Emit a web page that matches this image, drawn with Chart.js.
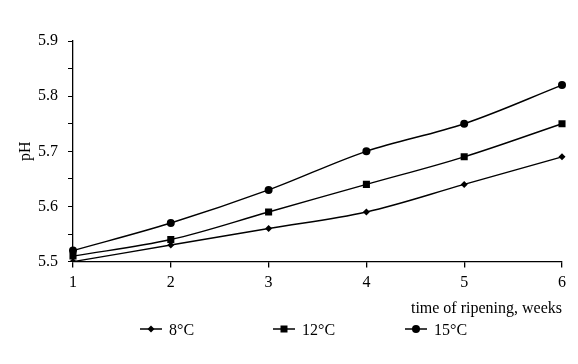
<!DOCTYPE html>
<html>
<head>
<meta charset="utf-8">
<script src="https://cdn.jsdelivr.net/npm/chart.js@4/dist/chart.umd.min.js"></script>
<style>
    html, body { margin: 0; padding: 0; background: #fff; }
    #wrap { position: relative; width: 578px; height: 364px; }
    #legend {
        position: absolute; left: 0; top: 320px; width: 578px;
        font-family: "Liberation Serif", "Times New Roman", serif; font-size: 16px; color: #000;
    }
    #legend .item { position: absolute; top: 0; white-space: nowrap; line-height: 20px; }
    #legend canvas { vertical-align: middle; margin-right: 7px; position: relative; top: -2px; }
</style>
</head>
<body>
<div id="wrap">
    <canvas id="chart-ph"></canvas>
    <div id="legend"></div>
</div>
<script>
// data
const weeks = ['1', '2', '3', '4', '5', '6'];
const seriesNames = ['8°C', '12°C', '15°C'];
const ph8 = [5.50, 5.53, 5.56, 5.59, 5.64, 5.69];
const ph12 = [5.51, 5.54, 5.59, 5.64, 5.69, 5.75];
const ph15 = [5.52, 5.57, 5.63, 5.70, 5.75, 5.82];

const serif = '"Liberation Serif", "Times New Roman", serif';

const markers = ['rectRot', 'rect', 'circle'];
const radii = [3.5, 5, 4];
const values = [ph8, ph12, ph15];
const legendLeft = [140, 273, 405];

// small legend icon: line with the marker in the middle
function legendIcon(style) {
    const c = document.createElement('canvas');
    c.width = 22;
    c.height = 12;
    const g = c.getContext('2d');
    g.strokeStyle = '#000';
    g.fillStyle = '#000';
    g.lineWidth = 1.5;
    g.beginPath();
    g.moveTo(0, 6);
    g.lineTo(22, 6);
    g.stroke();
    g.beginPath();
    if (style === 'rectRot') {
        g.moveTo(11, 2.5); g.lineTo(14.5, 6); g.lineTo(11, 9.5); g.lineTo(7.5, 6);
    } else if (style === 'rect') {
        g.rect(7.5, 2.5, 7, 7);
    } else {
        g.arc(11, 6, 4, 0, Math.PI * 2);
    }
    g.closePath();
    g.fill();
    return c;
}

// legend under the chart
const legendDiv = document.getElementById('legend');
seriesNames.forEach(function (name, i) {
    const item = document.createElement('span');
    item.className = 'item';
    item.style.left = legendLeft[i] + 'px';
    item.appendChild(legendIcon(markers[i]));
    item.appendChild(document.createTextNode(name));
    legendDiv.appendChild(item);
});

const datasets = seriesNames.map(function (name, i) {
    return {
        label: name,
        data: values[i],
        borderColor: '#000',
        backgroundColor: '#000',
        borderWidth: 1.4,
        pointStyle: markers[i],
        pointRadius: radii[i],
        pointBorderWidth: 0,
        tension: 0.35,
        fill: false
    };
});

var ctx = document.getElementById('chart-ph').getContext('2d');
chart = new Chart(ctx, {
    type: 'line',
    data: { labels: weeks, datasets: datasets },
    options: {
        animation: false,
        responsive: true,
        maintainAspectRatio: false,
        layout: { padding: { left: 0, right: 16, top: 41, bottom: 46 } },
        scales: {
            x: {
                offset: false,
                border: { color: '#000', width: 1.3 },
                grid: { drawOnChartArea: false, color: '#000', tickLength: 6, lineWidth: 1.3 },
                ticks: { color: '#000', padding: 6, maxRotation: 0, font: { family: serif, size: 16 } },
                title: {
                    display: true,
                    text: 'time of ripening, weeks',
                    align: 'end',
                    color: '#000',
                    padding: { top: 0, bottom: 0 },
                    font: { family: serif, size: 16 }
                }
            },
            y: {
                min: 5.5,
                max: 5.9,
                afterFit: function (scale) {
                    scale.width = 73; // 軸の位置を固定
                },
                border: { color: '#000', width: 1.3 },
                grid: { drawOnChartArea: false, color: '#000', tickLength: 5, lineWidth: 1 },
                ticks: {
                    stepSize: 0.05,
                    color: '#000',
                    padding: 10,
                    autoSkip: false,
                    font: { family: serif, size: 16 },
                    callback: function (value) {
                        const v = Math.round(value * 100);
                        return v % 10 === 0 ? (v / 100).toFixed(1) : '';
                    }
                },
                title: {
                    display: true,
                    text: 'pH',
                    color: '#000',
                    padding: { top: 16, bottom: 0 },
                    font: { family: serif, size: 16 }
                }
            }
        },
        plugins: {
            legend: { display: false },
            tooltip: { enabled: false }
        }
    }
});
</script>
</body>
</html>
